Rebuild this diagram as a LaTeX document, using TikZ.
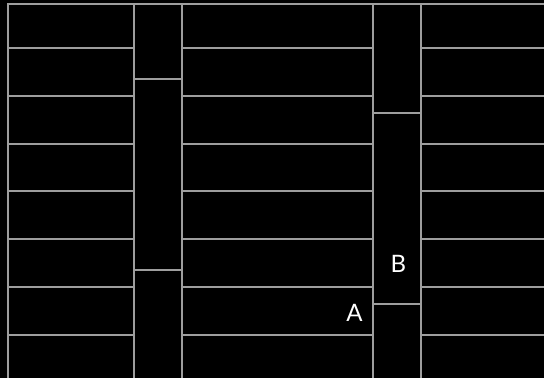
\documentclass[tikz,border=0pt]{standalone}
\usepackage{fontspec}
\setmainfont{Lato}
\usetikzlibrary{positioning}
\definecolor{vonal}{RGB}{158,158,158}
\tikzset{
  fal/.style={draw=vonal,line width=1.5pt},
  cimke/.style={text=white,font=\fontsize{24}{24}\selectfont,inner sep=0pt},
}

\begin{document}
\begin{tikzpicture}[x=1pt,y=-1pt]
  \fill[black] (0,0) rectangle (544,378);
  \useasboundingbox (0,0) rectangle (544,378);
  % keret
  \draw[fal] (8,378) -- (8,4) -- (544,4);
  % fuggoleges vonalak
  \foreach \x in {134,182,373,421} \draw[fal] (\x,4) -- (\x,378);
  % sorok
  \foreach \y in {48,96,144,191,239,287,335} {
    \draw[fal] (8,\y) -- (134,\y);
    \draw[fal] (182,\y) -- (373,\y);
    \draw[fal] (421,\y) -- (544,\y);
  }
  % eltolt oszlopok
  \foreach \y in {79,270} \draw[fal] (134,\y) -- (182,\y);
  \foreach \y in {113,304} \draw[fal] (373,\y) -- (421,\y);
  \node[cimke] (A) at (354.5,312.5) {A};
  \node[cimke] (B) at (398.5,263.5) {B};
\end{tikzpicture}
\end{document}
